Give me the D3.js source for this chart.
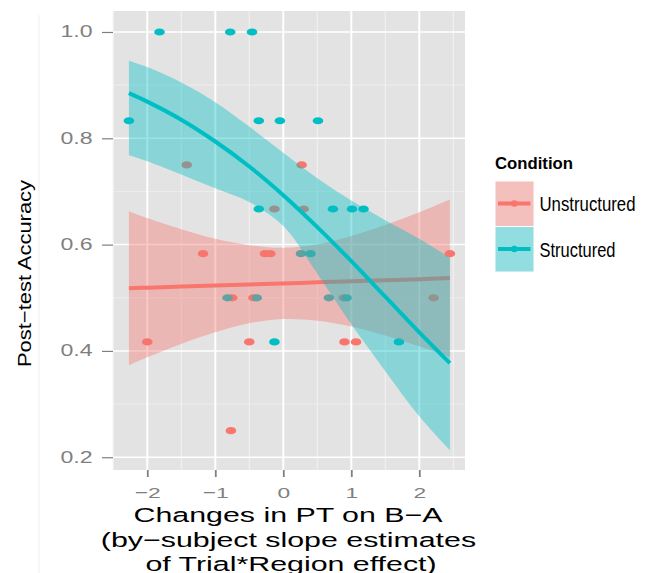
<!DOCTYPE html>
<html><head><meta charset="utf-8">
<script src="https://cdn.jsdelivr.net/npm/d3@7"></script>
<style>body{margin:0;background:#fff} text{font-family:"Liberation Sans",Arial,Helvetica,sans-serif}</style>
</head><body><svg id="c" width="649" height="573"></svg>
<script>
// ---- data ----
const structuredX = [-1.82, -0.78, -0.46, -2.27, -0.36, -0.05, 0.51, -0.36, 0.73, 1.01, 1.18, 0.26, 0.40, -0.82, -0.39, 0.67, 0.93, -0.13, 1.70];
const structuredY = [1.0, 1.0, 1.0, 0.833, 0.833, 0.833, 0.833, 0.667, 0.667, 0.667, 0.667, 0.583, 0.583, 0.5, 0.5, 0.5, 0.5, 0.417, 0.417];
const unstructuredX = [-1.42, 0.27, -0.13, 0.30, -1.18, -0.27, -0.19, 2.45, -0.75, -0.44, 0.89, 2.21, -2.0, -0.50, 0.90, 1.07, -0.77];
const unstructuredY = [0.75, 0.75, 0.667, 0.667, 0.583, 0.583, 0.583, 0.583, 0.5, 0.5, 0.5, 0.5, 0.417, 0.417, 0.417, 0.417, 0.25];

const smoothX = [-2.27, -2, -1.5, -1, -0.5, 0, 0.5, 1, 1.5, 2, 2.45];
const unstructuredFit   = [0.518, 0.519, 0.521, 0.523, 0.525, 0.527, 0.529, 0.531, 0.533, 0.535, 0.537];
const unstructuredLower = [0.373, 0.388, 0.413, 0.435, 0.452, 0.460, 0.457, 0.446, 0.429, 0.409, 0.389];
const unstructuredUpper = [0.663, 0.650, 0.629, 0.611, 0.599, 0.594, 0.600, 0.616, 0.637, 0.661, 0.685];
const structuredFit   = [0.885, 0.869, 0.835, 0.794, 0.747, 0.693, 0.633, 0.569, 0.502, 0.435, 0.377];
const structuredLower = [0.768, 0.757, 0.732, 0.706, 0.680, 0.635, 0.545, 0.450, 0.362, 0.277, 0.213];
const structuredUpper = [0.946, 0.934, 0.905, 0.868, 0.822, 0.773, 0.725, 0.683, 0.646, 0.611, 0.575];

const xTicks = [-2, -1, 0, 1, 2];
const xMinor = [-2.5, -1.5, -0.5, 0.5, 1.5, 2.5];
const yTicks = [0.2, 0.4, 0.6, 0.8, 1.0];
const yMinor = [0.3, 0.5, 0.7, 0.9];
const groups = ["Unstructured", "Structured"];
const colors = ["#F8766D", "#00BFC4"];
const xTitle = ["Changes in PT on B\u2212A", "(by\u2212subject slope estimates", "of Trial*Region effect)"];
const yTitle = "Post\u2212test Accuracy";
const legendTitle = "Condition";

// ---- layout ----
const svg = d3.select("#c");
const P = {l: 113, r: 465, t: 11, b: 470};
const x = d3.scaleLinear().domain([-2.504, 2.672]).range([P.l, P.r]);
const y = d3.scaleLinear().domain([0.176, 1.0395]).range([P.b, P.t]);
const color = d3.scaleOrdinal().domain(groups).range(colors);

function stretch(sel, f) {
  sel.each(function() {
    const l = this.getComputedTextLength();
    d3.select(this).attr("textLength", l * f).attr("lengthAdjust", "spacingAndGlyphs");
  });
}

// faint stray line at left
svg.append("line").attr("x1", 39).attr("x2", 39).attr("y1", 15).attr("y2", 573)
  .attr("stroke", "#efefef").attr("stroke-width", 1);

// panel
svg.append("rect").attr("x", P.l).attr("y", P.t).attr("width", P.r - P.l).attr("height", P.b - P.t).attr("fill", "#E3E3E3");
const grid = svg.append("g");
grid.selectAll(".xm").data(xMinor).join("line").attr("x1", d => x(d)).attr("x2", d => x(d)).attr("y1", P.t).attr("y2", P.b)
  .attr("stroke", "#F0F0F0").attr("stroke-width", 1.2);
grid.selectAll(".ym").data(yMinor).join("line").attr("y1", d => y(d)).attr("y2", d => y(d)).attr("x1", P.l).attr("x2", P.r)
  .attr("stroke", "#F0F0F0").attr("stroke-width", 0.8);
grid.selectAll(".xM").data(xTicks).join("line").attr("x1", d => x(d)).attr("x2", d => x(d)).attr("y1", P.t).attr("y2", P.b)
  .attr("stroke", "#fff").attr("stroke-width", 2);
grid.selectAll(".yM").data(yTicks).join("line").attr("y1", d => y(d)).attr("y2", d => y(d)).attr("x1", P.l).attr("x2", P.r)
  .attr("stroke", "#fff").attr("stroke-width", 1.5);

// points
const pts = [];
unstructuredX.forEach((v, i) => pts.push({g: "Unstructured", x: v, y: unstructuredY[i]}));
structuredX.forEach((v, i) => pts.push({g: "Structured", x: v, y: structuredY[i]}));
svg.append("g").selectAll("ellipse").data(pts).join("ellipse")
  .attr("cx", d => x(d.x)).attr("cy", d => y(d.y)).attr("rx", 5.3).attr("ry", 3.6)
  .attr("fill", d => color(d.g));

// smooths
const smooths = [
  {g: "Unstructured", fit: unstructuredFit, lo: unstructuredLower, hi: unstructuredUpper},
  {g: "Structured", fit: structuredFit, lo: structuredLower, hi: structuredUpper}
];
const area = d3.area().x((d, i) => x(smoothX[i])).y0(d => y(d[0])).y1(d => y(d[1])).curve(d3.curveCatmullRom);
const line = d3.line().x((d, i) => x(smoothX[i])).y(d => y(d)).curve(d3.curveCatmullRom);
smooths.forEach(s => {
  const band = s.lo.map((v, i) => [v, s.hi[i]]);
  svg.append("path").attr("d", area(band)).attr("fill", color(s.g)).attr("fill-opacity", 0.4);
  svg.append("path").attr("d", line(s.fit)).attr("fill", "none").attr("stroke", color(s.g)).attr("stroke-width", 4);
});

// axes
const yAxis = svg.append("g").attr("transform", `translate(${P.l},0)`)
  .call(d3.axisLeft(y).tickValues(yTicks).tickSize(11).tickPadding(9.5).tickFormat(d3.format(".1f")));
yAxis.select(".domain").remove();
yAxis.selectAll("line").attr("stroke", "#7f7f7f").attr("stroke-width", 1.2);
yAxis.selectAll("text").attr("fill", "#7f7f7f").style("font-size", "15.6px").call(stretch, 1.48);

const xAxis = svg.append("g").attr("transform", `translate(0,${P.b})`)
  .call(d3.axisBottom(x).tickValues(xTicks).tickSize(7).tickPadding(10).tickFormat(d3.format("d")));
xAxis.select(".domain").remove();
xAxis.selectAll("line").attr("stroke", "#7f7f7f").attr("stroke-width", 1.8);
xAxis.selectAll("text").attr("fill", "#7f7f7f").style("font-size", "15.4px").call(stretch, 1.48);

// titles
const xt = svg.append("g");
const xtCenters = [288, 288.5, 291];
const xtBase = [522.3, 547.3, 571];
xTitle.forEach((t, i) => {
  xt.append("text").attr("x", xtCenters[i]).attr("y", xtBase[i]).attr("text-anchor", "middle")
    .style("font-size", "20.5px").attr("fill", "#000").text(t).call(stretch, 1.48);
});
svg.append("text").attr("transform", "translate(30.7,273.5) rotate(-90)").attr("text-anchor", "middle")
  .style("font-size", "18.6px").attr("fill", "#000").text(yTitle)
  .attr("textLength", 187).attr("lengthAdjust", "spacingAndGlyphs");

// legend
const lg = svg.append("g");
lg.append("text").attr("x", 495).attr("y", 169.3).style("font-size", "17.3px").style("font-weight", "bold")
  .text(legendTitle).attr("textLength", 78).attr("lengthAdjust", "spacingAndGlyphs");
const keyTop = [181, 226.5];
const labW = [96, 76];
groups.forEach((g, i) => {
  lg.append("rect").attr("x", 495).attr("y", keyTop[i]).attr("width", 39).attr("height", 45.5)
    .attr("fill", "#F2F2F2").attr("stroke", "#fff").attr("stroke-width", 1);
  lg.append("rect").attr("x", 495.5).attr("y", keyTop[i] + 0.5).attr("width", 38).attr("height", 44.5)
    .attr("fill", color(g)).attr("fill-opacity", 0.4);
  const cy = keyTop[i] + 22.5;
  lg.append("line").attr("x1", 498).attr("x2", 530.5).attr("y1", cy).attr("y2", cy)
    .attr("stroke", color(g)).attr("stroke-width", 4);
  lg.append("circle").attr("cx", 514.3).attr("cy", cy).attr("r", 3.3).attr("fill", color(g));
  lg.append("text").attr("x", 539.5).attr("y", cy + 7.5).style("font-size", "19.6px").text(g)
    .attr("textLength", labW[i]).attr("lengthAdjust", "spacingAndGlyphs");
});
</script></body></html>
